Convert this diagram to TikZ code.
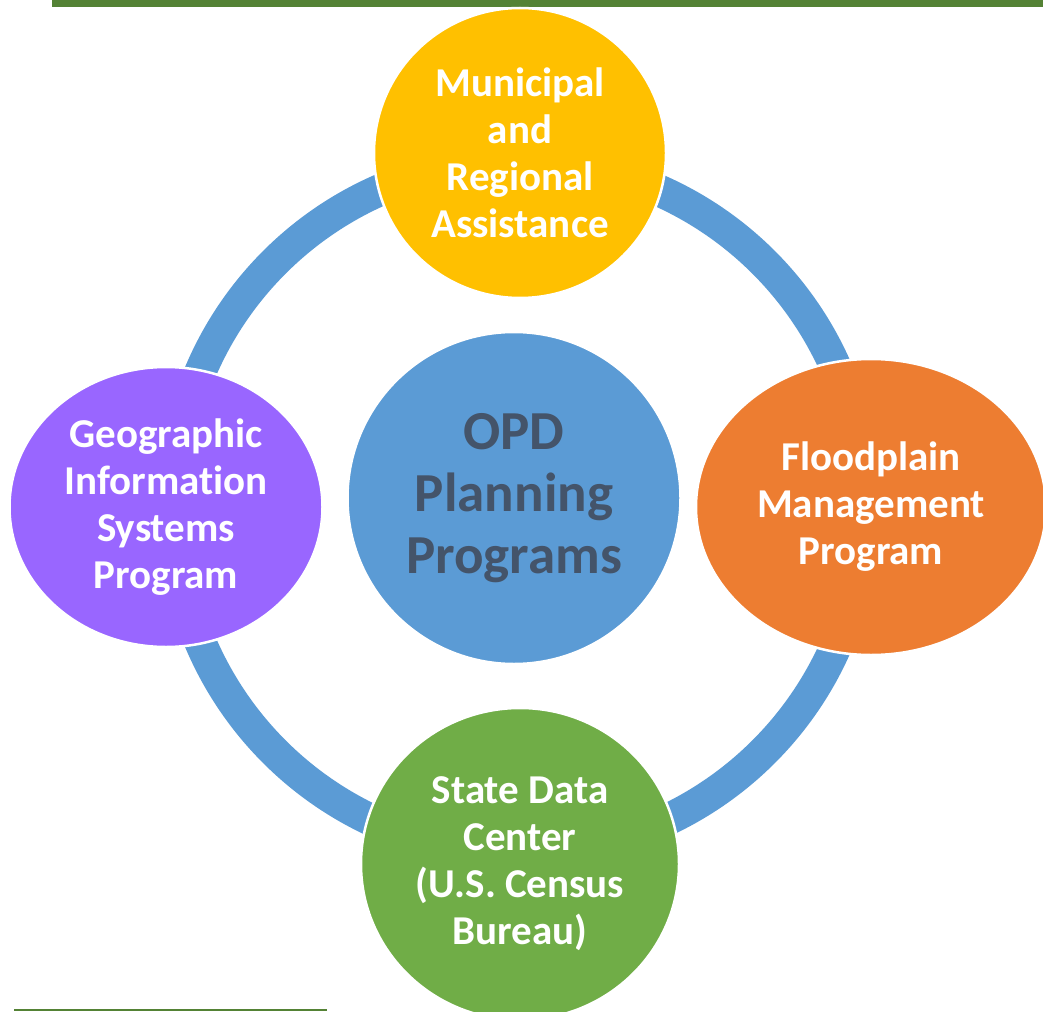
\documentclass[tikz,border=0pt]{standalone}
\usepackage{fontspec}
\setmainfont[Ligatures=NoCommon]{Carlito}
\usetikzlibrary{shapes.geometric}
\definecolor{ringblue}{HTML}{5B9BD5}
\definecolor{barg}{HTML}{548235}
\definecolor{ylw}{HTML}{FFC000}
\definecolor{org}{HTML}{ED7D31}
\definecolor{prp}{HTML}{9966FF}
\definecolor{grn}{HTML}{70AD47}
\definecolor{ctxt}{HTML}{44546A}
\tikzset{
  bub/.style={ellipse, draw=white, line width=2.5pt, text=white, align=center,
    inner sep=0pt, font=\bfseries\fontsize{41}{47}\selectfont},
  hub/.style={bub, fill=ringblue, text=ctxt, font=\bfseries\fontsize{55}{62}\selectfont},
  ring/.style={draw=ringblue, line width=32pt},
  rule/.style={fill=barg}
}
\begin{document}
\begin{tikzpicture}[x=1pt,y=-1pt]
\useasboundingbox (0,0) rectangle (1043,1011);
\fill[rule] (52,0) rectangle (1043,7);
\fill[rule] (14,1009) rectangle (327,1011);
\draw[ring] (519,507) circle (346);
\node[hub, minimum width=333pt, minimum height=332pt] (opd) at (514,498) {OPD\\Planning\\Programs};
\node[bub, fill=ylw, minimum width=292pt, minimum height=290pt] (mra) at (520,153) {Municipal\\and\\Regional\\Assistance};
\node[bub, fill=org, minimum width=350pt, minimum height=296pt] (fmp) at (871,507) {Floodplain\\Management\\Program};
\node[bub, fill=grn, minimum width=318pt, minimum height=312pt] (sdc) at (520,864) {State Data\\Center\\(U.S. Census\\Bureau)};
\node[bub, fill=prp, minimum width=313pt, minimum height=280pt] (gis) at (166,507) {Geographic\\Information\\Systems\\Program};
\end{tikzpicture}
\end{document}
